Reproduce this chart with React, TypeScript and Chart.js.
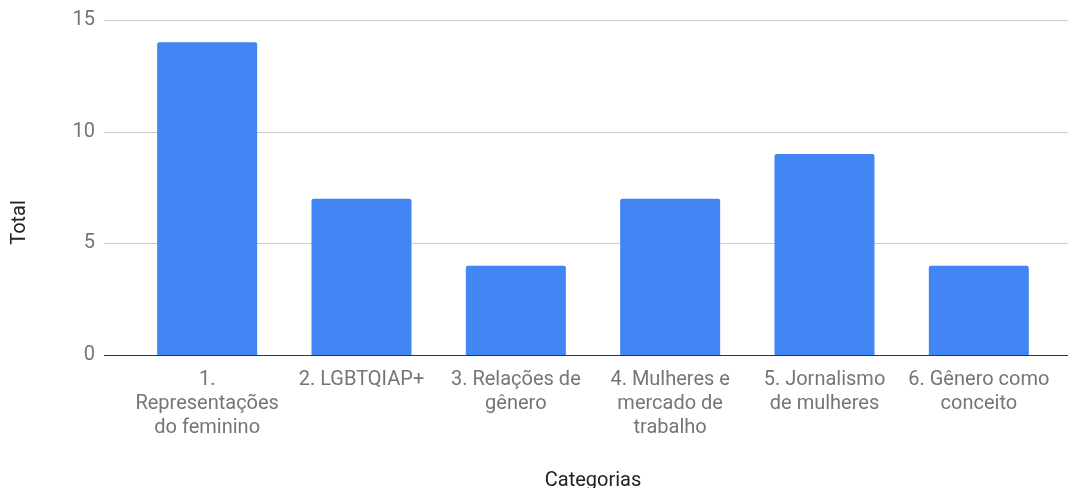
import { useEffect, useRef } from "react";
import { Chart, registerables } from "chart.js";

Chart.register(...registerables);

// Category labels, already broken into the lines they are shown on
const categories: string[][] = [
  ["1.", "Representações", "do feminino"],
  ["2. LGBTQIAP+"],
  ["3. Relações de", "gênero"],
  ["4. Mulheres e", "mercado de", "trabalho"],
  ["5. Jornalismo", "de mulheres"],
  ["6. Gênero como", "conceito"],
];

// Number of items per category
const totals: number[] = [14, 7, 4, 7, 9, 4];

// Value axis ticks
const yTicks: number[] = [0, 5, 10, 15];

const xTitle = "Categorias";
const yTitle = "Total";

const WIDTH = 1068;
const HEIGHT = 488;
const FONT = "Roboto, 'Noto Sans', Arial, sans-serif";
const BAR_BLUE = "#4285F4";
const TICK_GREY = "#757575";
const TITLE_DARK = "#222222";
const GRID_LEFT = 104;

// Horizontal gridlines and the zero baseline span wider than the plotting area,
// so they are drawn here from the y scale instead of by the axis itself.
const sheetGrid = {
  id: "sheetGrid",
  beforeDatasetsDraw(chart: any) {
    const { ctx, scales } = chart;
    const y = scales.y;
    ctx.save();
    ctx.strokeStyle = "#cccccc";
    ctx.lineWidth = 1;
    yTicks.forEach((v) => {
      if (v === 0) return;
      const py = Math.round(y.getPixelForValue(v)) + 0.5;
      ctx.beginPath();
      ctx.moveTo(GRID_LEFT, py);
      ctx.lineTo(chart.width, py);
      ctx.stroke();
    });
    ctx.restore();
  },
  afterDatasetsDraw(chart: any) {
    const { ctx, scales } = chart;
    const py = Math.round(scales.y.getPixelForValue(0)) + 0.5;
    ctx.save();
    ctx.strokeStyle = "#333333";
    ctx.lineWidth = 1;
    ctx.beginPath();
    ctx.moveTo(GRID_LEFT, py);
    ctx.lineTo(chart.width, py);
    ctx.stroke();
    ctx.restore();
  },
  afterDraw(chart: any) {
    const { ctx, chartArea } = chart;
    ctx.save();
    ctx.translate(20, (chartArea.top + chartArea.bottom) / 2 + 35);
    ctx.rotate(-Math.PI / 2);
    ctx.fillStyle = TITLE_DARK;
    ctx.font = `20px ${FONT}`;
    ctx.textAlign = "center";
    ctx.textBaseline = "middle";
    ctx.fillText(yTitle, 0, 0);
    ctx.restore();
  },
};

export default function App() {
  const canvasRef = useRef<HTMLCanvasElement | null>(null);

  useEffect(() => {
    const canvas = canvasRef.current;
    if (!canvas) return;
    const chart = new Chart(canvas, {
      type: "bar",
      data: {
        labels: categories,
        datasets: [
          {
            label: yTitle,
            data: totals,
            backgroundColor: BAR_BLUE,
            borderWidth: 0,
            borderRadius: 2,
            barPercentage: 0.648,
            categoryPercentage: 1,
          },
        ],
      },
      options: {
        responsive: false,
        animation: false,
        layout: { padding: { top: 20, right: 12, left: 0, bottom: 0 } },
        plugins: {
          legend: { display: false },
          tooltip: { enabled: false },
        },
        scales: {
          x: {
            grid: { display: false, drawTicks: false },
            border: { display: false },
            ticks: {
              color: TICK_GREY,
              font: { family: FONT, size: 20, lineHeight: 1.2 },
              padding: 13,
              maxRotation: 0,
              minRotation: 0,
              autoSkip: false,
            },
            title: {
              display: true,
              text: xTitle,
              color: TITLE_DARK,
              font: { family: FONT, size: 20, lineHeight: 1.2 },
              padding: { top: 0, bottom: -5 },
            },
            afterFit: (scale: any) => {
              scale.height = 133;
            },
          },
          y: {
            min: 0,
            max: 15,
            grid: { display: false, drawTicks: false },
            border: { display: false },
            ticks: {
              stepSize: 5,
              color: TICK_GREY,
              font: { family: FONT, size: 20 },
              padding: 35,
            },
            afterFit: (scale: any) => {
              scale.width = 130;
              scale.paddingTop = 0;
              scale.paddingBottom = 0;
            },
          },
        },
      },
      plugins: [sheetGrid],
    });
    return () => chart.destroy();
  }, []);

  return (
    <div
      style={{
        position: "fixed",
        left: 0,
        top: 0,
        width: WIDTH,
        height: HEIGHT,
        overflow: "hidden",
        background: "#ffffff",
      }}
    >
      <canvas ref={canvasRef} width={WIDTH} height={HEIGHT} style={{ display: "block" }} />
    </div>
  );
}
